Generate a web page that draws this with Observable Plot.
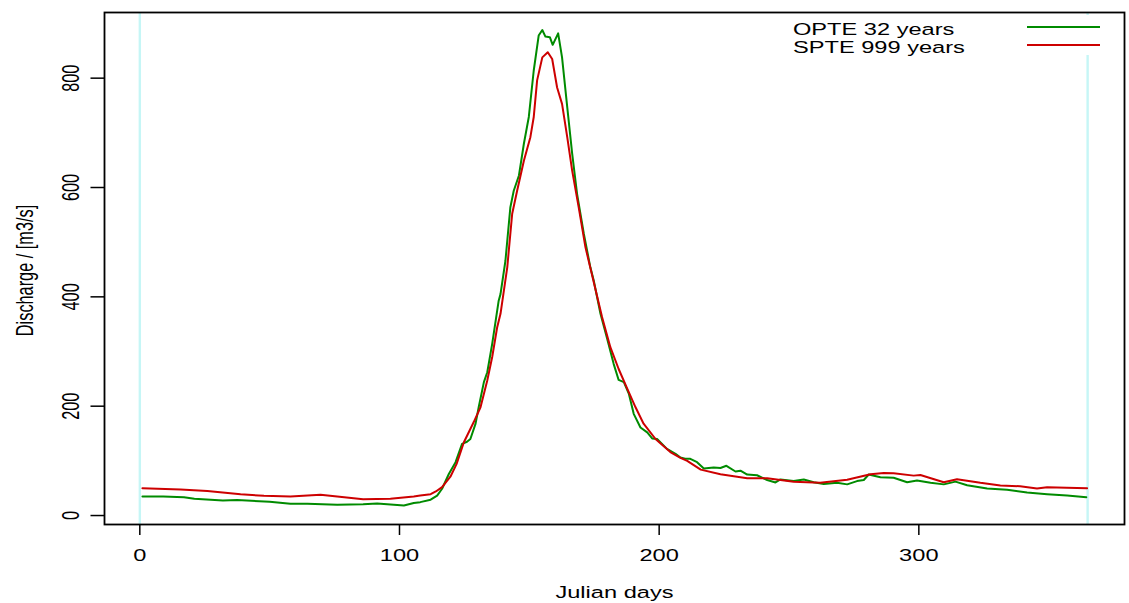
<!DOCTYPE html>
<html>
<head>
<meta charset="utf-8">
<script src="https://cdn.jsdelivr.net/npm/d3@7"></script>
<script src="https://cdn.jsdelivr.net/npm/@observablehq/plot@0.6"></script>
<style>
  html, body { margin: 0; padding: 0; background: #fff; }
  #wrap { position: relative; width: 1129px; height: 603px; font-family: "Liberation Sans", Arial, sans-serif; }
  #legend { position: absolute; left: 788px; top: 15px; width: 318px; height: 40px; background: #fff; }
  .lrow { position: absolute; left: 5px; height: 18px; width: 312px; }
  .ltxt { position: absolute; left: 0; top: 0; font-size: 16.3px; line-height: 18px; white-space: nowrap; transform: scaleX(1.45); transform-origin: left center; color: #000; }
  .lsw { position: absolute; left: 234px; width: 73px; height: 0; border-top: 2px solid; }
</style>
</head>
<body>
<div id="wrap">
  <div id="chart"></div>
  <div id="legend"></div>
</div>
<script>
// ---- data ----
const seriesNames = ["OPTE 32 years", "SPTE 999 years"];
const seriesColors = ["#008B00", "#CD0000"];

const opteDay = [1,9,17,21,32,37.5,50,58,64.5,76,86,91.4,101.7,105.5,108,112,114.5,116.4,119,121.6,124.1,126,127.3,129.3,130.5,132.5,133.8,135.7,138.2,138.9,140.8,142.7,144,146,147.9,149.8,151.7,153.6,155,156.2,157.9,159,161.1,162.6,164.6,166.5,168.4,171,173.5,174.8,177.4,180,182.5,184.4,186.4,188.3,190.2,192.8,195.4,197.3,199.2,203,206.3,208.2,210,212,214.6,217.2,221,223.6,225.9,229.4,231.3,233.9,237.7,241.6,244.8,246.7,251.8,255.7,259.5,263.4,268.5,272.4,276.2,278.8,280.7,285.2,290.3,295.5,299.3,304.5,309.6,314.1,318.6,326.3,334,341.7,349.4,357.1,364.5];
const opteQ = [35,35,33.5,30.5,27.5,28.5,25,21.5,21.5,19.5,20.5,22,18.5,23,24.5,29,36.5,49,76,97.6,131,135,140,168,198,244,262,314,393,405,466,564,594,622,680,729,814,878,888,876,875,861,882,838,747,662,588,515,454,430,369,323,277,248,244,223,186,161,152,141,140,122,113,106,104,103.7,97.6,86,88,87,91,80.5,82,75,73.7,65,60.5,66,63,66,61,57.5,60,57,63,65,75,70,69,61,64,60,57,62,55.5,49.5,47,42,39,36.5,33.5];

const spteDay = [1,15.7,26,38.8,47.8,58,69.6,76,86,96.5,105.5,108,112,114,116.4,119.6,122,124.8,128.6,131.2,133.8,135.7,137.6,138.9,141.5,143.4,145.3,147.9,150.4,151.7,153,155,157.1,158.8,160.7,162.6,164.6,166.5,169,171.6,174.8,178,181.2,184.4,187.7,190.9,194,198.6,204.3,208.2,210.8,216,223.6,233.9,241.6,251.8,262,272.4,281.4,286.5,290.3,298,300.6,309.6,314.7,323.7,331.4,339,345.5,349.4,357,364.8];
const spteQ = [50,47.5,45,39,36,34.7,37.8,34.7,30,30.5,34.7,36.6,39,44,52,71,94.5,134,171,198,247,290,344,369,454,552,594,649,692,729,796,838,847.5,835,783,753,692,631,564,491,427,363,308,268,232,198,168,140,116,105.5,100,84,75.5,68.3,68.3,61.6,59.8,65.3,75.5,78,77.5,73,74,61,66.4,59.8,55,53.6,49.4,51.8,50.6,50];

const xTicks = [0, 100, 200, 300];
const yTicks = [0, 200, 400, 600, 800];
const markerDays = [0, 365];
const xTitle = "Julian days";
const yTitle = "Discharge / [m3/s]";

// ---- tables built from the arrays ----
const opte = opteDay.map((d, i) => ({day: d, q: opteQ[i]}));
const spte = spteDay.map((d, i) => ({day: d, q: spteQ[i]}));

const chart = Plot.plot({
  width: 1129,
  height: 603,
  marginLeft: 104,
  marginRight: 5,
  marginTop: 12,
  marginBottom: 79,
  x: {domain: [-13.6, 379.2]},
  y: {domain: [-16.4, 920.1]},
  style: {fontFamily: '"Liberation Sans", Arial, sans-serif', fontSize: "16.3px", background: "#fff", color: "#000", overflow: "visible"},
  marks: [
    Plot.ruleX(markerDays, {stroke: "#c6f6f6", strokeWidth: 2.4}),
    Plot.line(opte, {x: "day", y: "q", stroke: seriesColors[0], strokeWidth: 2}),
    Plot.line(spte, {x: "day", y: "q", stroke: seriesColors[1], strokeWidth: 2}),
    Plot.axisX(xTicks, {tickSize: 11, tickPadding: 25, label: null, strokeWidth: 1.5, fontSize: 16.3}),
    Plot.axisY(yTicks, {tickSize: 13.5, tickFormat: () => "", label: null, strokeWidth: 1.5}),
    Plot.text(yTicks, {y: d => d, text: d => String(d), frameAnchor: "left", dx: -26, rotate: -90, textAnchor: "middle", lineAnchor: "middle", fontSize: 16.3}),
    Plot.text([xTitle], {frameAnchor: "bottom", dy: 73, text: d => d, lineAnchor: "middle", fontSize: 16.3}),
    Plot.text([yTitle], {frameAnchor: "left", dx: -72, dy: 2, text: d => d, rotate: -90, textAnchor: "middle", lineAnchor: "middle", fontSize: 16.3}),
    Plot.frame({stroke: "#000", strokeWidth: 1.8})
  ]
});
document.getElementById("chart").appendChild(chart);

// the reference's lettering is stretched horizontally: reproduce that
const S = 1.45;
d3.select(chart).selectAll("text").each(function () {
  const t = d3.select(this);
  const tr = t.attr("transform") || "";
  const x = +t.attr("x") || 0, y = +t.attr("y") || 0;
  const rotated = /rotate\(\s*-?90/.test(tr);
  t.attr("x", null).attr("y", null)
   .attr("transform", `${tr} translate(${x},${y}) scale(${rotated ? `1,${S}` : `${S},1`})`);
});

// legend (white box over the plot, as in the reference)
const legend = d3.select("#legend");
seriesNames.forEach((name, i) => {
  const row = legend.append("div").attr("class", "lrow").style("top", `${5 + i * 18.4}px`);
  row.append("div").attr("class", "ltxt").text(name);
  row.append("div").attr("class", "lsw").style("top", `${5.7 - (i ? 0.4 : 0)}px`).style("border-color", seriesColors[i]);
});
</script>
</body>
</html>
